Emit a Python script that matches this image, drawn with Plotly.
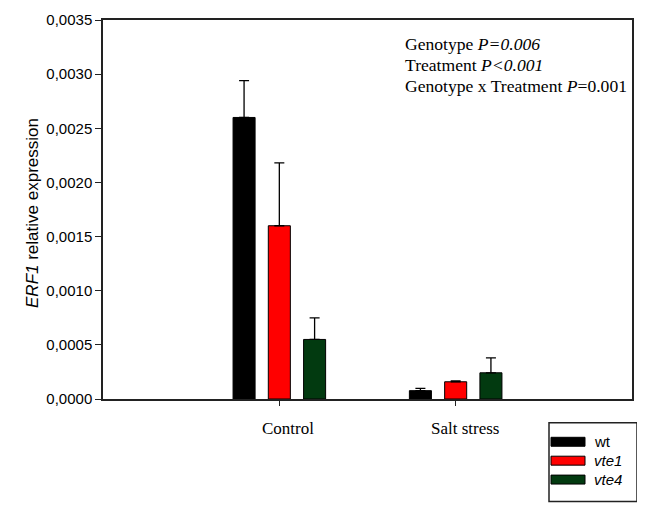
import plotly.graph_objects as go

categories = ["Control", "Salt stress"]
genotypes = ["wt", "vte1", "vte4"]
genotype_labels = ["wt", "<i>vte1</i>", "<i>vte4</i>"]
colors = ["#000000", "#FF0000", "#023A10"]
means = {
    "wt": [0.00260, 0.000077],
    "vte1": [0.00160, 0.000159],
    "vte4": [0.00055, 0.000242],
}
errors = {
    "wt": [0.00034, 0.000021],
    "vte1": [0.00058, 0.000009],
    "vte4": [0.00020, 0.000138],
}
ytick_vals = [0, 0.0005, 0.0010, 0.0015, 0.0020, 0.0025, 0.0030, 0.0035]
ytick_text = ["0,0000", "0,0005", "0,0010", "0,0015", "0,0020", "0,0025", "0,0030", "0,0035"]
y_title = "<i>ERF1</i> relative expression"
stats_lines = [
    "Genotype <i>P=0.006</i>",
    "Treatment <i>P&lt;0.001</i>",
    "Genotype x Treatment <i>P</i>=0.001",
]

fig = go.Figure()
for g, c in zip(genotypes, colors):
    fig.add_trace(go.Bar(
        x=categories, y=means[g], name=g,
        marker=dict(color=c, line=dict(color="#000000", width=1)),
        error_y=dict(type="data", array=errors[g], arrayminus=[0] * len(categories),
                     symmetric=False, color="#000000", thickness=1.3, width=5),
        showlegend=False,
    ))

# page body has an 8px margin; figure is sized so plot area lands at x 103-632, y 18-399
fig.update_layout(
    width=637, height=500,
    margin=dict(l=95, r=13, t=10, b=109),
    plot_bgcolor="white", paper_bgcolor="white",
    barmode="group", bargap=0.4, bargroupgap=0.375,
    font=dict(family="Liberation Sans, Arial", color="#000000"),
)
fig.update_xaxes(
    type="category", range=[-1, 2],
    showline=True, linecolor="#222222", linewidth=1.5, mirror=True,
    ticks="outside", ticklen=5, tickcolor="#222222", tickwidth=1,
    showticklabels=False, showgrid=False, zeroline=False,
)
fig.update_yaxes(
    range=[0, 0.0035], tickvals=ytick_vals, ticktext=ytick_text,
    showline=True, linecolor="#222222", linewidth=1.5, mirror=True,
    ticks="outside", ticklen=6, tickcolor="#222222", tickwidth=1,
    tickfont=dict(size=15, family="Liberation Sans, Arial"),
    showgrid=False, zeroline=False, automargin=False,
)

def px(x):
    return (x - 103) / 529

def py(y):
    return (399 - y) / 381

# y-axis title
fig.add_annotation(x=px(33), y=py(212), xref="paper", yref="paper", text=y_title, textangle=-90,
                   showarrow=False, xanchor="center", yanchor="middle",
                   font=dict(family="Liberation Sans, Arial", size=17))

# category labels
for cat in categories:
    fig.add_annotation(x=cat, y=0, xref="x", yref="y", text=cat, showarrow=False,
                       xshift=9, yshift=-29, font=dict(family="Liberation Serif", size=17))

# stats text
for i, line in enumerate(stats_lines):
    fig.add_annotation(x=px(403), y=py(42 + 21 * i), xref="paper", yref="paper", text=line,
                       showarrow=False, align="left", xanchor="left", yanchor="middle",
                       font=dict(family="Liberation Serif", size=17.6))

# custom legend
lx0, lx1, ly0, ly1 = 549, 637, 423, 502
fig.add_shape(type="rect", xref="paper", yref="paper", x0=px(lx0), x1=px(lx1), y0=py(ly1), y1=py(ly0),
              line=dict(color="#222222", width=1.5), fillcolor="white")
for i, (lab, c) in enumerate(zip(genotype_labels, colors)):
    yc = 442 + 19 * i
    fig.add_shape(type="rect", xref="paper", yref="paper", x0=px(551), x1=px(585),
                  y0=py(yc + 4.5), y1=py(yc - 4.5), line=dict(color="#000000", width=1), fillcolor=c)
    fig.add_annotation(x=px(592), y=py(yc), xref="paper", yref="paper", text=lab, showarrow=False,
                       xanchor="left", yanchor="middle", font=dict(family="Liberation Sans, Arial", size=15))

fig.write_html("out.html")
